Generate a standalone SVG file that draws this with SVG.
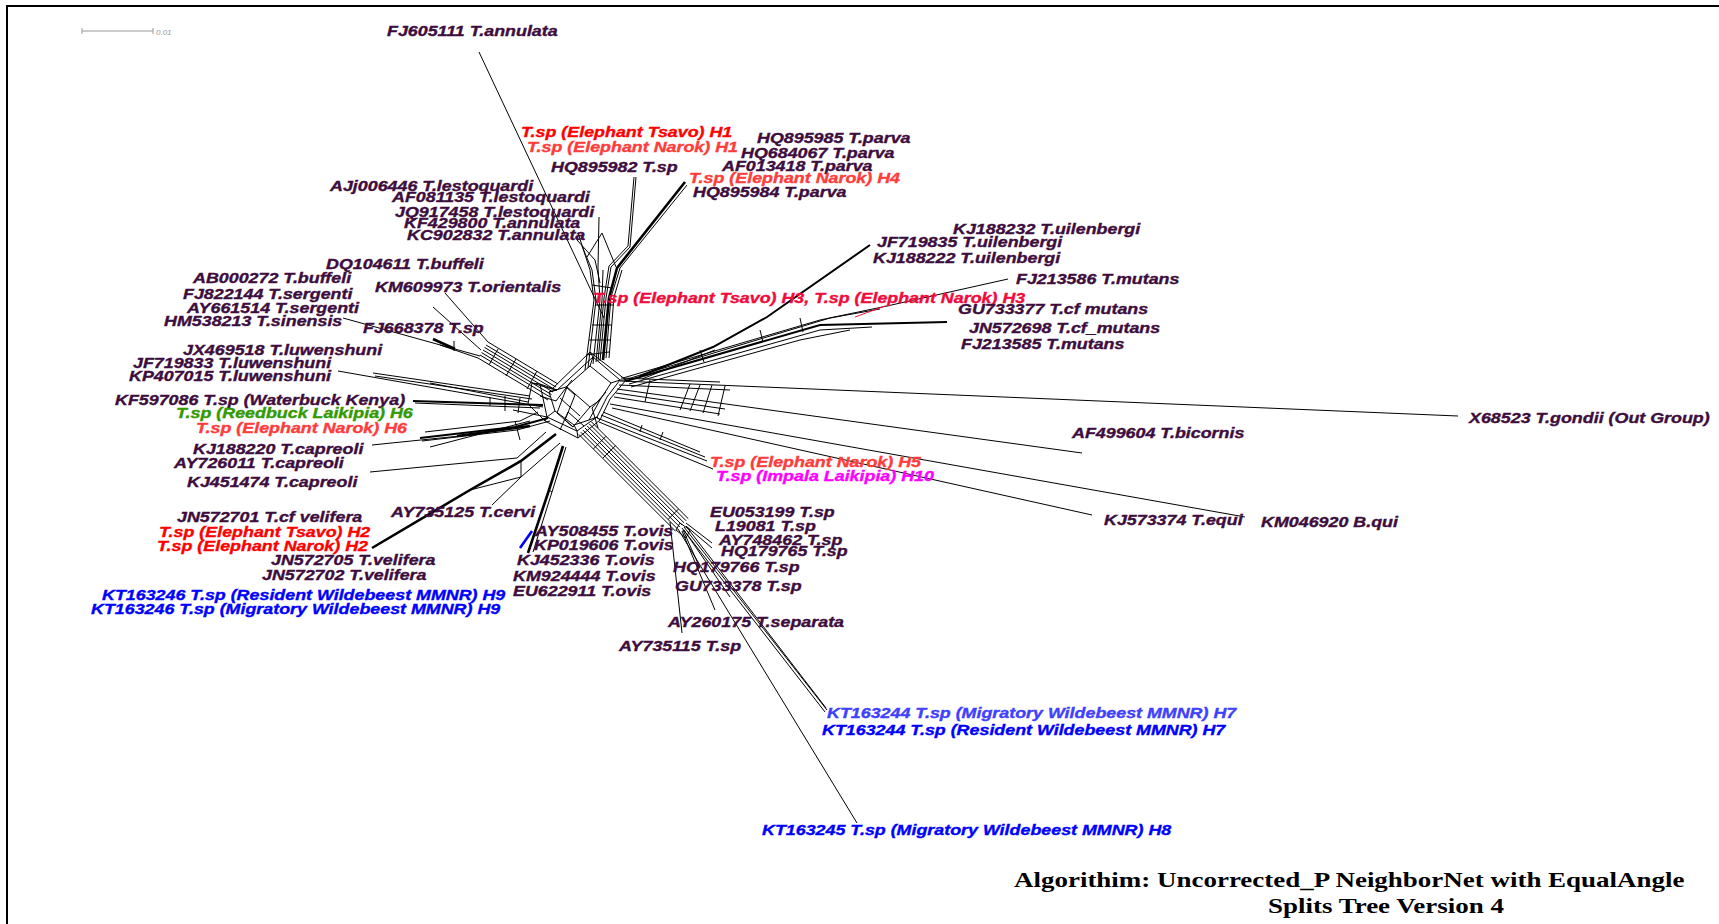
<svg xmlns="http://www.w3.org/2000/svg" width="1719" height="924" viewBox="0 0 1719 924">
<style>
  .t { font-family: "Liberation Sans", Arial, sans-serif; font-weight: bold; font-style: italic; font-size: 14.4px; stroke-width: 0.35; }
  .d { fill: #3d0d3d; stroke: #3d0d3d; }
  .r { fill: #ff0000; stroke: #ff0000; }
  .rl { fill: #ff3c3c; stroke: #ff3c3c; }
  .rc { fill: #f20a3c; stroke: #f20a3c; }
  .g { fill: #339900; stroke: #339900; }
  .m { fill: #ff00ff; stroke: #ff00ff; }
  .b { fill: #0000ff; stroke: #0000ff; }
  .bl { fill: #4040ff; stroke: #4040ff; }
  .ttl { font-family: "Liberation Serif", "Times New Roman", serif; font-weight: bold; font-size: 21px; fill: #000; }
  #connectors path { fill: none; stroke: #000; stroke-width: 1; }
  #connectors .w2 { stroke-width: 2; }
  #connectors .w3 { stroke-width: 2.6; }
  #connectors .red { stroke: #ff1040; }
  #connectors .blue { stroke: #0000ff; stroke-width: 2.6; }
</style>
<rect width="1719" height="924" fill="#fff"/>
<rect x="7" y="6" width="1730" height="940" fill="none" stroke="#000" stroke-width="2"/>

<!-- scale bar -->
<g id="scale">
  <path d="M82 31 H153 M82 28 V34 M153 28 V34" stroke="#999" stroke-width="1" fill="none"/>
  <text x="156" y="35" font-family="Liberation Sans, Arial, sans-serif" font-style="italic" font-size="8" fill="#999">0.01</text>
</g>

<g id="connectors">
  <!-- central hub -->
  <path d="M532 383 L552 389 L590 352 L626 380 L610 399 L600 420 L578 438 L545 421 L528 404 Z"/>
  <path d="M540 384 L557 390 L593 357 L620 380 L607 397 L597 417 L577 431 L547 417 Z"/>
  <path d="M549 392 L566 387 L590 366 L611 383 L600 400 L589 420 L574 425 L555 411 Z"/>
  <path d="M567 387 L590 407 L573 427 L557 413 Z"/>
  <path d="M552 389 L557 390 L549 392 M590 352 L593 357 L590 366 M626 380 L620 380 L611 383 M600 420 L597 417 L589 420 M578 438 L577 431 L574 425 M545 421 L547 417 L555 411 M532 383 L540 384"/>
  <path d="M513 410 L547 417 M560 398 L580 416 M575 395 L565 420 M566 387 L575 395 M590 407 L600 400 M573 427 L565 420"/>
  <path d="M540 396 L556 401 L572 380 M606 392 L592 408 L598 428 M560 430 L568 412 L584 426"/>

  <!-- upper bundle -->
  <path d="M585 370 L594 300 L590 270 L578 233"/>
  <path d="M588 368 L596 300 L592 270 L582 246"/>
  <path d="M593 364 L600 300 L598 268 L599 217"/>
  <path d="M596 362 L602 300 L603 270"/>
  <path d="M598 361 L604 298 L609 266 L628 246 L634 177"/>
  <path d="M600 361 L606 298 L611 267 L630 247 L636 177"/>
  <path class="w3" d="M603 360 L609 298 L617 268 L685 182"/>
  <path d="M606 358 L611 297 L620 268 L687 185"/>
  <path d="M609 358 L614 297 L622 270"/>
  <path d="M586 355 L609 352 M589 340 L610 340 M592 325 L612 325 M595 305 L613 305 M592 285 L612 288"/>
  <path d="M587 257 L602 233 L616 267 M577 240 L595 260 L600 283"/>
  <path d="M479 52 L604 318"/>

  <!-- upper-left bundle -->
  <path d="M548 400 L478 358 M550 397 L480 355 M551.5 394.6 L481.5 352.6 M553 392 L483 350 M554.5 389.4 L484.5 347.4 M556 387 L486 345 M558 384 L488 342"/>
  <path d="M527 389 L537 371 M506 376 L516 359 M489 365 L498 349"/>
  <path d="M445 293 L488 342 M433 307 L481 350 M343 318 L480 356"/>
  <path class="w3" d="M433 339 L455 349"/>
  <path d="M454 341 L454 351 M440 345 L478 358"/>

  <!-- left bundle -->
  <path d="M338 371 L543 407"/>
  <path d="M373 373 L530 396 M375 376 L532 399 M430 383 L528 402"/>
  <path class="w2" d="M413 401 L543 405"/>
  <path d="M415 403 L540 408 M505 396 L505 411 M520 398 L518 413 M490 397 L490 406"/>
  <path class="w2" d="M420 438 L515 427 L548 418"/>
  <path d="M422 441 L517 430 L550 421 M372 445 L460 436 M425 432 L520 421 L538 412"/>
  <path class="w3" d="M457 436 L530 426"/>
  <path d="M370 472 L517 458 L546 432 M430 447 L530 421 M515 421 L520 440"/>

  <!-- lower-left -->
  <path class="w3" d="M372 548 L470 490 L521 461 L556 434"/>
  <path d="M470 490 L521 477 L560 443 M492 505 L521 477 M521 461 L521 477"/>
  <path class="w3" d="M528 553 L549 490 L563 446"/>
  <path d="M533 552 L552 492 L566 447 M549 490 L552 492"/>
  <path class="blue" d="M520 548 L532 531"/>

  <!-- lower-right bundle -->
  <path d="M578.7 434.3 L675.7 531.3 M580.8 432.2 L677.8 529.2 M582.9 430.1 L679.9 527.1 M585 428 L682 525 M587.1 425.9 L684.1 522.9 M589.2 423.8 L686.2 520.8 M591.3 421.7 L688.3 518.7"/>
  <path d="M593.4 448.9 L605.9 436.3 M603 458 L615.6 445.6 M668 519.5 L678.6 509"/>
  <path d="M680 523 L690 530 L686 538 L676 530 Z"/>
  <path d="M686 523 L712 543 M686 526 L712 548 M684 530 L730 597 M682 531 L715 610 M670 522 L682 633 M683 530 L700 568"/>
  <path d="M682 528 L825 712 M684 527 L827 710 M686 526 L826 708"/>
  <path d="M678 529 L857 823"/>

  <!-- right -->
  <path d="M597 418 L707 461 M599 422 L713 469 M601 415 L705 457 M603 412 L700 452 M640 432 L642 425 M660 440 L663 432"/>
  <path d="M620 381 L1458 416"/>
  <path d="M619 385 L730 390 M621 378 L720 382"/>
  <path d="M617 389 L1082 453"/>
  <path d="M616 393 L725 409 M614 397 L720 414"/>
  <path d="M610 404 L1245 517"/>
  <path d="M612 408 L1092 515"/>
  <path d="M690 384 L680 410 M700 385 L690 411 M712 385 L703 413 M725 386 L718 416 M650 380 L645 402"/>

  <!-- upper-right -->
  <path d="M623 378 L820 320 L887 306 L1008 279"/>
  <path class="w2" d="M626 381 L820 325 L947 322"/>
  <path d="M629 384 L820 330 L872 327"/>
  <path d="M624 380 L830 318 L880 309"/>
  <path d="M631 387 L800 340 L850 330"/>
  <path class="w2" d="M640 376 L713 347 L767 317 L870 245"/>
  <path d="M642 379 L715 350 M700 350 L704 362 M760 330 L763 342 M800 318 L803 332"/>
  <path class="red" d="M855 317 L885 306"/>
</g>

<!-- taxon labels -->
<g id="n-FJ605111"><text class="t d" transform="translate(387 36) scale(1.24 1)">FJ605111 T.annulata</text></g>
<g id="n-H1-tsavo"><text class="t r" transform="translate(521 137) scale(1.24 1)">T.sp (Elephant Tsavo) H1</text></g>
<g id="n-H1-narok"><text class="t rl" transform="translate(527 152) scale(1.24 1)">T.sp (Elephant Narok) H1</text></g>
<g id="n-HQ895985"><text class="t d" transform="translate(757 143) scale(1.24 1)">HQ895985 T.parva</text></g>
<g id="n-HQ684067"><text class="t d" transform="translate(741 158) scale(1.24 1)">HQ684067 T.parva</text></g>
<g id="n-HQ895982"><text class="t d" transform="translate(551 172) scale(1.24 1)">HQ895982 T.sp</text></g>
<g id="n-AF013418"><text class="t d" transform="translate(722 171) scale(1.24 1)">AF013418 T.parva</text></g>
<g id="n-H4-narok"><text class="t rl" transform="translate(689 183) scale(1.24 1)">T.sp (Elephant Narok) H4</text></g>
<g id="n-HQ895984"><text class="t d" transform="translate(693 197) scale(1.24 1)">HQ895984 T.parva</text></g>
<g id="n-AJj006446"><text class="t d" transform="translate(330 191) scale(1.24 1)">AJj006446 T.lestoquardi</text></g>
<g id="n-AF081135"><text class="t d" transform="translate(392 202) scale(1.24 1)">AF081135 T.lestoquardi</text></g>
<g id="n-JQ917458"><text class="t d" transform="translate(395 217) scale(1.24 1)">JQ917458 T.lestoquardi</text></g>
<g id="n-KF429800"><text class="t d" transform="translate(404 228) scale(1.24 1)">KF429800 T.annulata</text></g>
<g id="n-KC902832"><text class="t d" transform="translate(407 240) scale(1.24 1)">KC902832 T.annulata</text></g>
<g id="n-KJ188232"><text class="t d" transform="translate(953 234) scale(1.24 1)">KJ188232 T.uilenbergi</text></g>
<g id="n-JF719835"><text class="t d" transform="translate(877 247) scale(1.24 1)">JF719835 T.uilenbergi</text></g>
<g id="n-KJ188222"><text class="t d" transform="translate(873 263) scale(1.24 1)">KJ188222 T.uilenbergi</text></g>
<g id="n-DQ104611"><text class="t d" transform="translate(326 269) scale(1.24 1)">DQ104611 T.buffeli</text></g>
<g id="n-AB000272"><text class="t d" transform="translate(193 283) scale(1.24 1)">AB000272 T.buffeli</text></g>
<g id="n-KM609973"><text class="t d" transform="translate(375 292) scale(1.24 1)">KM609973 T.orientalis</text></g>
<g id="n-FJ822144"><text class="t d" transform="translate(183 299) scale(1.24 1)">FJ822144 T.sergenti</text></g>
<g id="n-AY661514"><text class="t d" transform="translate(187 313) scale(1.24 1)">AY661514 T.sergenti</text></g>
<g id="n-HM538213"><text class="t d" transform="translate(164 326) scale(1.24 1)">HM538213 T.sinensis</text></g>
<g id="n-FJ668378"><text class="t d" transform="translate(363 333) scale(1.24 1)">FJ668378 T.sp</text></g>
<g id="n-H3"><text class="t rc" transform="translate(593 303) scale(1.24 1)">T.sp (Elephant Tsavo) H3, T.sp (Elephant Narok) H3</text></g>
<g id="n-FJ213586"><text class="t d" transform="translate(1016 284) scale(1.24 1)">FJ213586 T.mutans</text></g>
<g id="n-GU733377"><text class="t d" transform="translate(958 314) scale(1.24 1)">GU733377 T.cf mutans</text></g>
<g id="n-JN572698"><text class="t d" transform="translate(969 333) scale(1.24 1)">JN572698 T.cf_mutans</text></g>
<g id="n-FJ213585"><text class="t d" transform="translate(961 349) scale(1.24 1)">FJ213585 T.mutans</text></g>
<g id="n-JX469518"><text class="t d" transform="translate(183 355) scale(1.24 1)">JX469518 T.luwenshuni</text></g>
<g id="n-JF719833"><text class="t d" transform="translate(133 368) scale(1.24 1)">JF719833 T.luwenshuni</text></g>
<g id="n-KP407015"><text class="t d" transform="translate(129 381) scale(1.24 1)">KP407015 T.luwenshuni</text></g>
<g id="n-KF597086"><text class="t d" transform="translate(115 405) scale(1.24 1)">KF597086 T.sp (Waterbuck Kenya)</text></g>
<g id="n-H6-reedbuck"><text class="t g" transform="translate(176 418) scale(1.24 1)">T.sp (Reedbuck Laikipia) H6</text></g>
<g id="n-H6-narok"><text class="t rl" transform="translate(196 433) scale(1.24 1)">T.sp (Elephant Narok) H6</text></g>
<g id="n-X68523"><text class="t d" transform="translate(1469 423) scale(1.24 1)">X68523 T.gondii (Out Group)</text></g>
<g id="n-AF499604"><text class="t d" transform="translate(1072 438) scale(1.24 1)">AF499604 T.bicornis</text></g>
<g id="n-KJ188220"><text class="t d" transform="translate(193 454) scale(1.24 1)">KJ188220 T.capreoli</text></g>
<g id="n-AY726011"><text class="t d" transform="translate(174 468) scale(1.24 1)">AY726011 T.capreoli</text></g>
<g id="n-KJ451474"><text class="t d" transform="translate(187 487) scale(1.24 1)">KJ451474 T.capreoli</text></g>
<g id="n-H5-narok"><text class="t rl" transform="translate(710 467) scale(1.24 1)">T.sp (Elephant Narok) H5</text></g>
<g id="n-H10-impala"><text class="t m" transform="translate(716 481) scale(1.24 1)">T.sp (Impala Laikipia) H10</text></g>
<g id="n-JN572701"><text class="t d" transform="translate(177 522) scale(1.24 1)">JN572701 T.cf velifera</text></g>
<g id="n-AY735125"><text class="t d" transform="translate(391 517) scale(1.24 1)">AY735125 T.cervi</text></g>
<g id="n-H2-tsavo"><text class="t r" transform="translate(159 537) scale(1.24 1)">T.sp (Elephant Tsavo) H2</text></g>
<g id="n-H2-narok"><text class="t r" transform="translate(157 551) scale(1.24 1)">T.sp (Elephant Narok) H2</text></g>
<g id="n-JN572705"><text class="t d" transform="translate(271 565) scale(1.24 1)">JN572705 T.velifera</text></g>
<g id="n-JN572702"><text class="t d" transform="translate(262 580) scale(1.24 1)">JN572702 T.velifera</text></g>
<g id="n-H9-resident"><text class="t b" transform="translate(102 600) scale(1.24 1)">KT163246 T.sp (Resident Wildebeest MMNR) H9</text></g>
<g id="n-H9-migratory"><text class="t b" transform="translate(91 614) scale(1.24 1)">KT163246 T.sp (Migratory Wildebeest MMNR) H9</text></g>
<g id="n-AY508455"><text class="t d" transform="translate(535 536) scale(1.24 1)">AY508455 T.ovis</text></g>
<g id="n-KP019606"><text class="t d" transform="translate(534 550) scale(1.24 1)">KP019606 T.ovis</text></g>
<g id="n-KJ452336"><text class="t d" transform="translate(517 565) scale(1.24 1)">KJ452336 T.ovis</text></g>
<g id="n-KM924444"><text class="t d" transform="translate(513 581) scale(1.24 1)">KM924444 T.ovis</text></g>
<g id="n-EU622911"><text class="t d" transform="translate(513 596) scale(1.24 1)">EU622911 T.ovis</text></g>
<g id="n-EU053199"><text class="t d" transform="translate(710 517) scale(1.24 1)">EU053199 T.sp</text></g>
<g id="n-L19081"><text class="t d" transform="translate(715 531) scale(1.24 1)">L19081 T.sp</text></g>
<g id="n-AY748462"><text class="t d" transform="translate(719 545) scale(1.24 1)">AY748462 T.sp</text></g>
<g id="n-HQ179765"><text class="t d" transform="translate(721 556) scale(1.24 1)">HQ179765 T.sp</text></g>
<g id="n-HQ179766"><text class="t d" transform="translate(673 572) scale(1.24 1)">HQ179766 T.sp</text></g>
<g id="n-GU733378"><text class="t d" transform="translate(675 591) scale(1.24 1)">GU733378 T.sp</text></g>
<g id="n-AY260175"><text class="t d" transform="translate(668 627) scale(1.24 1)">AY260175 T.separata</text></g>
<g id="n-AY735115"><text class="t d" transform="translate(619 651) scale(1.24 1)">AY735115 T.sp</text></g>
<g id="n-KJ573374"><text class="t d" transform="translate(1104 525) scale(1.24 1)">KJ573374 T.equi</text></g>
<g id="n-KM046920"><text class="t d" transform="translate(1261 527) scale(1.24 1)">KM046920 B.qui</text></g>
<g id="n-H7-migratory"><text class="t bl" transform="translate(827 718) scale(1.24 1)">KT163244 T.sp (Migratory Wildebeest MMNR) H7</text></g>
<g id="n-H7-resident"><text class="t b" transform="translate(822 735) scale(1.24 1)">KT163244 T.sp (Resident Wildebeest MMNR) H7</text></g>
<g id="n-H8-migratory"><text class="t b" transform="translate(762 835) scale(1.24 1)">KT163245 T.sp (Migratory Wildebeest MMNR) H8</text></g>

<!-- caption -->
<g id="caption">
  <text class="ttl" transform="translate(1014 887) scale(1.285 1)">Algorithim: Uncorrected_P NeighborNet with EqualAngle</text>
  <text class="ttl" transform="translate(1268 913) scale(1.285 1)">Splits Tree Version 4</text>
</g>
</svg>
